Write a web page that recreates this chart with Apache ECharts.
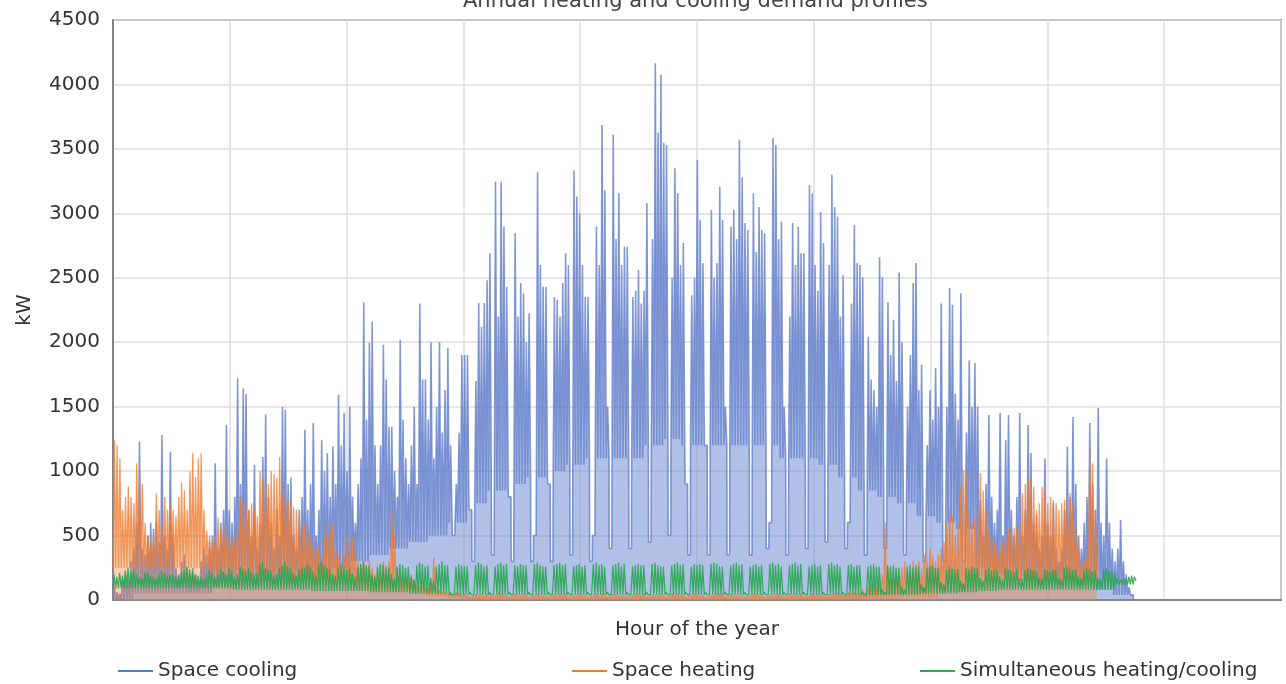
<!DOCTYPE html>
<html>
<head>
<meta charset="utf-8">
<script src="https://cdn.jsdelivr.net/npm/echarts@6/dist/echarts.min.js"></script>
<style>
html,body{margin:0;padding:0;background:#fff;}
#chart{width:1286px;height:684px;}
</style>
</head>
<body>
<div id="chart"></div>
<script>
// ---- Data ----
const chartTitle = 'Annual heating and cooling demand profiles';
const xAxisName = 'Hour of the year';
const yAxisName = 'kW';
const seriesNames = ['Space cooling', 'Space heating', 'Simultaneous heating/cooling'];
const yTicks = [0, 500, 1000, 1500, 2000, 2500, 3000, 3500, 4000, 4500];
const hoursPerDay = 24;
// hours of the day: overnight level, daily peak start/end, overnight level
const peakDayHours = [1, 11, 14, 23];
const flatDayHours = [3, 8, 18, 23];

// Daily peak of space cooling (kW), one value per day, 7 per row (weeks)
const coolPeak = [
  100, 60, 50, 150, 200, 150, 300,
  400, 600, 1230, 400, 350, 500, 600,
  550, 600, 450, 1280, 500, 400, 1150,
  500, 250, 200, 300, 350, 250, 200,
  250, 200, 150, 300, 400, 350, 450,
  500, 1060, 400, 600, 700, 1360, 700,
  600, 800, 1720, 900, 1640, 1600, 700,
  500, 1050, 400, 600, 1110, 1440, 800,
  600, 400, 700, 500, 1500, 1475, 900,
  950, 500, 400, 700, 800, 1320, 700,
  900, 1373, 500, 700, 1240, 1000, 1140,
  800, 1190, 900, 1590, 1200, 1450, 1000,
  1500, 800, 600, 900, 1100, 2310, 1400,
  1995, 2160, 1200, 900, 1200, 1980, 1710,
  1345, 1345, 1000, 800, 2020, 1400, 1100,
  900, 1200, 1500, 900, 2300, 1710, 1710,
  1400, 2000, 1100, 1500, 2000, 1300, 1630,
  1955, 1200, 500, 900, 1300, 1900, 1900,
  1900, 700, 300, 1700, 2305, 2120, 2305,
  2480, 2690, 350, 3245, 2200, 3245, 2895,
  2430, 800, 300, 2845, 2200, 2460, 2380,
  2000, 2225, 300, 500, 3320, 2600, 2430,
  2430, 900, 300, 2350, 2330, 2200, 2460,
  2690, 2600, 350, 3335, 3130, 3000, 2600,
  2350, 2350, 300, 500, 2895, 2600, 3685,
  3180, 1500, 400, 3610, 2800, 3155, 2600,
  2740, 2740, 400, 2350, 2400, 2560, 2300,
  2400, 3080, 450, 2800, 4165, 3625, 4075,
  3545, 3530, 500, 2500, 3350, 3155, 2600,
  2770, 900, 350, 2365, 2500, 3415, 2950,
  2615, 1200, 350, 3025, 2500, 2615, 3205,
  2950, 1500, 350, 2895, 3025, 2800, 3570,
  3280, 2925, 2870, 350, 3155, 2700, 3050,
  2870, 2845, 400, 600, 3585, 3530, 2800,
  2935, 1500, 350, 2200, 2925, 2600, 2895,
  2690, 2690, 400, 3220, 3155, 2600, 2400,
  3010, 2770, 450, 2600, 3300, 3050, 2975,
  2200, 2520, 400, 600, 2300, 2910, 2615,
  2600, 2505, 350, 2040, 1710, 1630, 1500,
  2660, 2505, 400, 2310, 1900, 2175, 1700,
  2540, 2000, 350, 1500, 1900, 2460, 2615,
  1630, 1825, 300, 1200, 1630, 1400, 1800,
  1500, 2300, 300, 1500, 2420, 2290, 1600,
  1400, 2380, 300, 1300, 1860, 1500, 1840,
  1500, 775, 500, 900, 1436, 800, 600,
  700, 1450, 500, 1240, 1436, 700, 500,
  800, 1450, 500, 700, 1358, 1140, 600,
  660, 400, 500, 1100, 600, 500, 750,
  400, 300, 400, 700, 1190, 800, 1420,
  900, 500, 400, 600, 800, 1373, 900,
  700, 1490, 600, 500, 1100, 600, 400,
  300, 400, 620, 300, 200, 100, 50,
  0
];
// Base (overnight) level of space cooling, one value per week
const coolLow = [
  0, 50, 50, 50, 50, 100, 120, 120, 120,
  150, 200, 250, 300, 350, 400, 450, 500,
  600, 750, 850, 900, 950, 1000, 1050, 1100, 1100, 1100,
  1200, 1250, 1200, 1200, 1200, 1200, 1200, 1100, 1100,
  1050, 950, 850, 800, 750, 650, 600, 550,
  250, 200, 150, 120, 120, 120, 80, 40, 0
];

// Daily peak of space heating (kW)
const heatPeak = [
  1240, 1200, 1100, 700, 800, 880, 800,
  750, 1060, 1000, 900, 600, 500, 450,
  500, 830, 700, 600, 800, 700, 750,
  700, 650, 800, 910, 850, 700, 1000,
  1140, 955, 1100, 1140, 700, 540, 500,
  450, 500, 640, 550, 600, 500, 465,
  500, 450, 600, 800, 750, 780, 700,
  750, 700, 650, 1000, 930, 950, 900,
  1000, 980, 950, 1110, 800, 850, 775,
  750, 720, 700, 650, 570, 600, 540,
  500, 450, 410, 400, 350, 500, 600,
  550, 600, 400, 350, 300, 350, 490,
  450, 490, 400, 300, 250, 300, 250,
  300, 250, 200, 250, 200, 300, 250,
  300, 700, 500, 250, 200, 150, 200,
  150, 200, 150, 120, 100, 150, 100,
  100, 120, 330, 100, 80, 60, 60,
  50, 40, 30, 60, 50, 40, 50,
  40, 30, 30, 50, 40, 50, 40,
  50, 40, 30, 40, 60, 50, 40,
  40, 30, 30, 50, 40, 40, 50,
  50, 30, 30, 40, 50, 40, 40,
  40, 30, 30, 50, 40, 50, 40,
  50, 30, 30, 40, 40, 50, 40,
  40, 30, 30, 40, 50, 40, 50,
  50, 30, 30, 50, 40, 40, 40,
  40, 30, 30, 40, 50, 50, 40,
  50, 30, 30, 40, 40, 40, 50,
  40, 30, 30, 50, 40, 50, 40,
  50, 30, 30, 40, 50, 40, 40,
  40, 30, 30, 40, 40, 50, 50,
  50, 30, 30, 50, 40, 40, 40,
  40, 30, 30, 40, 50, 50, 40,
  50, 30, 30, 40, 40, 40, 50,
  40, 30, 30, 50, 40, 50, 40,
  50, 30, 30, 40, 50, 40, 50,
  40, 40, 30, 50, 40, 50, 60,
  50, 40, 40, 60, 50, 60, 50,
  60, 80, 60, 100, 120, 150, 100,
  150, 200, 600, 250, 200, 180, 250,
  200, 250, 300, 200, 250, 300, 280,
  300, 250, 350, 300, 400, 350, 300,
  350, 400, 450, 600, 700, 650, 500,
  600, 880, 1010, 985, 700, 600, 620,
  700, 985, 850, 700, 550, 500, 440,
  440, 400, 450, 500, 550, 570, 560,
  570, 600, 830, 900, 955, 930, 880,
  700, 750, 880, 850, 750, 800, 775,
  750, 700, 750, 775, 800, 830, 750,
  600, 400, 310, 300, 350, 1165, 1060,
  700
];
const heatLow = [
  250, 250, 250, 250, 250, 200, 200, 200, 200, 120, 120, 120, 80, 60, 60, 50, 30,
  20, 0, 0, 0, 0, 0, 0, 0, 0, 0, 0, 0, 0, 0, 0, 0, 0, 0, 0, 0, 0, 0,
  10, 20, 20, 60, 60, 100, 150, 150, 150, 150, 150, 150, 150, 250
];

// Daily peak of simultaneous heating/cooling (kW)
const simPeak = [
  200, 180, 210, 190, 230, 250, 220,
  240, 200, 180, 170, 210, 220, 190,
  180, 170, 200, 230, 210, 190, 200,
  200, 180, 190, 210, 230, 260, 240,
  220, 200, 190, 180, 170, 200, 230,
  210, 180, 200, 240, 220, 200, 250,
  230, 180, 200, 260, 240, 220, 250,
  220, 200, 210, 280, 300, 250, 240,
  230, 190, 200, 250, 270, 300, 260,
  250, 210, 190, 240, 260, 250, 280,
  260, 220, 200, 280, 300, 270, 250,
  240, 200, 190, 250, 270, 260, 240,
  250, 210, 180, 260, 280, 300, 270,
  270, 200, 180, 260, 280, 270, 260,
  250, 200, 170, 260, 280, 270, 250,
  260, 180, 160, 270, 290, 280, 260,
  270, 170, 150, 260, 280, 300, 270,
  270, 60, 40, 260, 280, 270, 260,
  260, 60, 40, 270, 290, 280, 260,
  270, 60, 40, 260, 280, 290, 270,
  280, 60, 40, 270, 260, 280, 270,
  270, 60, 40, 280, 290, 270, 260,
  260, 60, 40, 270, 280, 290, 270,
  280, 60, 40, 260, 270, 280, 260,
  270, 60, 40, 280, 290, 270, 280,
  260, 60, 40, 270, 280, 290, 260,
  280, 60, 40, 260, 270, 280, 270,
  270, 60, 40, 280, 290, 270, 260,
  260, 60, 40, 270, 280, 290, 270,
  280, 60, 40, 260, 280, 270, 280,
  270, 60, 40, 280, 290, 280, 260,
  260, 60, 40, 270, 280, 290, 270,
  280, 60, 40, 260, 270, 280, 260,
  270, 60, 40, 280, 290, 270, 280,
  260, 60, 40, 270, 280, 290, 270,
  280, 60, 40, 260, 270, 280, 260,
  270, 60, 40, 280, 290, 270, 280,
  260, 60, 40, 270, 280, 260, 270,
  270, 60, 40, 260, 270, 280, 260,
  260, 80, 60, 270, 260, 270, 250,
  250, 100, 80, 260, 270, 250, 260,
  260, 120, 100, 250, 260, 270, 250,
  250, 140, 120, 240, 260, 250, 240,
  240, 150, 130, 250, 240, 260, 250,
  250, 170, 150, 240, 250, 230, 240,
  230, 180, 160, 250, 240, 230, 220,
  240, 170, 160, 230, 250, 240, 230,
  220, 180, 170, 240, 230, 220, 240,
  230, 170, 160, 250, 260, 240, 230,
  240, 180, 170, 230, 250, 240, 220,
  230, 170, 160, 240, 250, 230, 220,
  200, 170, 160, 160, 170, 180, 190,
  180
];
const simLow = [
  90, 90, 90, 90, 90, 90, 80, 80, 80, 80, 70, 70, 70, 60, 60, 50, 50,
  40, 40, 40, 40, 40, 40, 40, 40, 40, 40, 40, 40, 40, 40, 40, 40, 40, 40, 40, 40, 40, 40,
  40, 40, 50, 50, 60, 70, 80, 80, 80, 80, 80, 80, 120, 150
];

// ---- Build hourly points from the read values ----
function build(peaks, lows, hours) {
  const out = [];
  for (let d = 0; d < peaks.length; d++) {
    const lo = Math.min(lows[Math.floor(d / 7)], peaks[d]);
    const t0 = d * hoursPerDay;
    out.push([t0 + hours[0], lo]);
    out.push([t0 + hours[1], peaks[d]]);
    out.push([t0 + hours[2], peaks[d]]);
    out.push([t0 + hours[3], lo]);
  }
  return out;
}
const coolData = build(coolPeak, coolLow, peakDayHours);
const heatData = build(heatPeak, heatLow, peakDayHours);
const simData = build(simPeak, simLow, flatDayHours);

const FONT = 'DejaVu Sans';
const colors = ['#5b7cc6', '#ef7a2e', '#2aa853'];

const chart = echarts.init(document.getElementById('chart'), null, {renderer: 'canvas'});
chart.setOption({
  animation: false,
  backgroundColor: '#ffffff',
  textStyle: {fontFamily: FONT},
  title: {
    text: chartTitle,
    left: 458,
    top: -14,
    textStyle: {fontFamily: FONT, fontSize: 21, fontWeight: 'normal', color: '#444'}
  },
  legend: [
    {data: [seriesNames[0]], left: 113, top: 656},
    {data: [seriesNames[1]], left: 567, top: 656},
    {data: [seriesNames[2]], left: 915, top: 656}
  ].map(l => Object.assign(l, {
    icon: 'rect', itemWidth: 35, itemHeight: 2, itemGap: 10,
    textStyle: {fontFamily: FONT, fontSize: 20, color: '#333'}
  })),
  grid: {
    left: 113, right: 5, top: 20, bottom: 84,
    show: true, borderColor: '#858585', borderWidth: 2, containLabel: false
  },
  xAxis: {
    type: 'value', min: 0, max: 10000, interval: 1000,
    name: xAxisName, nameLocation: 'middle', nameGap: 20,
    nameTextStyle: {fontFamily: FONT, fontSize: 20, color: '#333'},
    axisLabel: {show: false}, axisTick: {show: false},
    axisLine: {show: true, lineStyle: {color: '#858585', width: 2}},
    splitLine: {show: true, lineStyle: {color: '#dedede', width: 1.5}}
  },
  yAxis: {
    type: 'value', min: yTicks[0], max: yTicks[yTicks.length - 1], interval: 500,
    name: yAxisName, nameLocation: 'middle', nameGap: 78, nameRotate: 90,
    nameTextStyle: {fontFamily: FONT, fontSize: 20, color: '#333'},
    axisLabel: {fontFamily: FONT, fontSize: 20, color: '#333', margin: 13,
      formatter: v => String(v)},
    axisTick: {show: false},
    axisLine: {show: true, lineStyle: {color: '#858585', width: 2}},
    splitLine: {show: true, lineStyle: {color: '#dedede', width: 1.5}}
  },
  series: [
    {name: seriesNames[0], type: 'line', data: coolData, showSymbol: false, symbol: 'none',
     color: colors[0], lineStyle: {width: 1.6, color: 'rgba(100,128,203,0.8)'},
     areaStyle: {color: 'rgba(112,140,210,0.78)'}, z: 2},
    {name: seriesNames[1], type: 'line', data: heatData, showSymbol: false, symbol: 'none',
     color: colors[1], lineStyle: {width: 1.3, color: 'rgba(240,122,45,0.75)'},
     areaStyle: {color: 'rgba(242,130,55,0.55)'}, z: 3},
    {name: seriesNames[2], type: 'line', data: simData, showSymbol: false, symbol: 'none',
     color: colors[2], lineStyle: {width: 1.2, color: 'rgba(42,168,83,0.95)'}, z: 4}
  ]
});
</script>
</body>
</html>
